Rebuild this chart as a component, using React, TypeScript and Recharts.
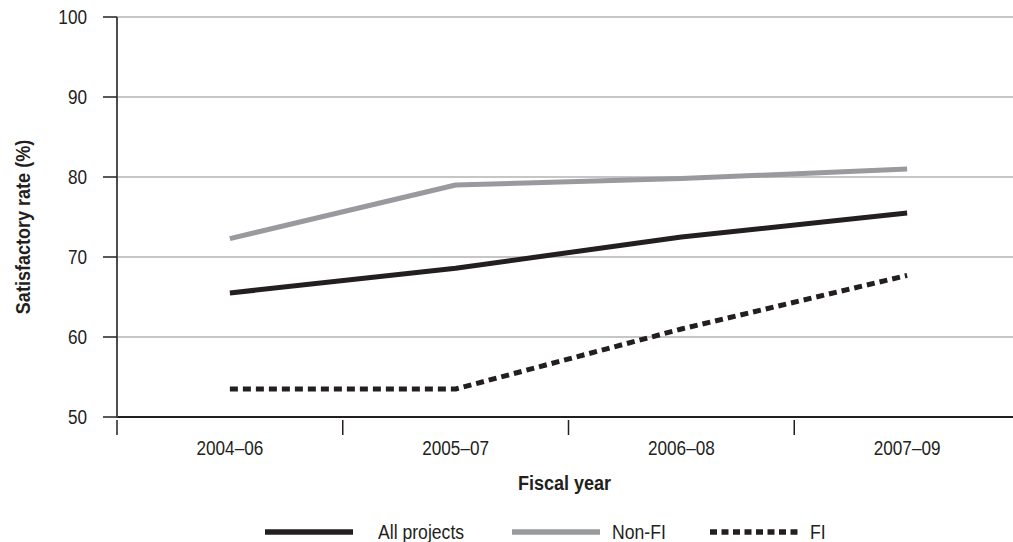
import { CartesianGrid, Legend, Line, LineChart, XAxis, YAxis } from "recharts";

const categories = ["2004–06", "2005–07", "2006–08", "2007–09"];
const allProjects = [65.5, 68.6, 72.5, 75.5];
const nonFi = [72.3, 79.0, 79.8, 81.0];
const fi = [53.5, 53.5, 61.0, 67.7];
const yTicks = [50, 60, 70, 80, 90, 100];

const series = [
  { key: "all", name: "All projects", color: "#231f20", dash: undefined as string | undefined },
  { key: "nonfi", name: "Non-FI", color: "#999a9d", dash: undefined as string | undefined },
  { key: "fi", name: "FI", color: "#231f20", dash: "7 4.5" },
];

const data = categories.map((cat, i) => ({
  cat,
  all: allProjects[i],
  nonfi: nonFi[i],
  fi: fi[i],
}));

// no condensed font installed: squeeze Liberation Sans horizontally instead
const FONT = '"Liberation Sans", Arial, sans-serif';
const SQUEEZE = 0.88;
const INK = "#231f20";

function NText({ x, y, anchor = "middle", size = 19.5, bold = false, rotate = false, children }: any) {
  return (
    <text
      transform={`translate(${x} ${y})${rotate ? " rotate(-90)" : ""} scale(${SQUEEZE} 1)`}
      dy="0.355em"
      textAnchor={anchor}
      fontFamily={FONT}
      fontSize={size}
      fontWeight={bold ? "bold" : "normal"}
      fill={INK}
    >
      {children}
    </text>
  );
}

function XTick(props: any) {
  const { x, y, payload } = props;
  const half = payload?.offset ?? 113;
  return (
    <g>
      <line x1={x - half} x2={x - half} y1={y + 3} y2={y + 18} stroke={INK} strokeWidth={1.5} />
      <NText x={x} y={y + 31}>{payload.value}</NText>
    </g>
  );
}

function YTick(props: any) {
  const { x, y, payload } = props;
  return <NText x={x} y={y} anchor="end">{payload.value}</NText>;
}

const legendSlots = [
  { swatch: 0, text: 113 },
  { swatch: 247, text: 347 },
  { swatch: 445, text: 545 },
];

function LegendRow() {
  return (
    <div style={{ position: "relative", width: 580, height: 24, fontFamily: FONT, fontSize: 20, color: INK }}>
      {series.map((s, i) => (
        <div key={s.key}>
          <svg width={88} height={10} style={{ position: "absolute", left: legendSlots[i].swatch, top: 7 }}>
            <line x1={0} x2={88} y1={5} y2={5} stroke={s.color} strokeWidth={5.5} strokeDasharray={s.dash} />
          </svg>
          <span
            style={{
              position: "absolute",
              left: legendSlots[i].text,
              top: 0,
              lineHeight: "24px",
              whiteSpace: "nowrap",
              transform: `scaleX(${SQUEEZE})`,
              transformOrigin: "left center",
            }}
          >
            {s.name}
          </span>
        </div>
      ))}
    </div>
  );
}

export default function App() {
  return (
    <div style={{ position: "absolute", left: 0, top: 0, width: 1013, height: 542, overflow: "hidden" }}>
      <LineChart width={1013} height={542} data={data} margin={{ top: 17, right: -7, bottom: 0, left: 0 }}>
        <CartesianGrid vertical={false} stroke="#b3b3b3" strokeWidth={1.5} />
        <XAxis
          dataKey="cat"
          scale="band"
          height={125}
          tickSize={0}
          tickMargin={0}
          tickLine={false}
          axisLine={{ stroke: INK, strokeWidth: 2 }}
          tick={<XTick />}
          interval={0}
          label={{
            content: (p: any) => (
              <NText x={p.viewBox.x + p.viewBox.width / 2 - 4} y={p.viewBox.y + 66} size={20.5} bold>
                Fiscal year
              </NText>
            ),
          }}
        />
        <YAxis
          domain={[50, 100]}
          ticks={yTicks}
          width={117}
          tickSize={14}
          tickMargin={16}
          tickLine={{ stroke: INK, strokeWidth: 1.5 }}
          axisLine={{ stroke: "#4d4d4d", strokeWidth: 2 }}
          tick={<YTick />}
          label={{
            content: () => (
              <NText x={23} y={227} size={20.5} bold rotate>
                Satisfactory rate (%)
              </NText>
            ),
          }}
        />
        <Legend
          layout="horizontal"
          verticalAlign="middle"
          align="center"
          wrapperStyle={{ top: 520, left: 265, width: "auto" }}
          content={() => <LegendRow />}
        />
        {series.map((s) => (
          <Line
            key={s.key}
            type="linear"
            dataKey={s.key}
            name={s.name}
            stroke={s.color}
            strokeWidth={5}
            strokeDasharray={s.key === "fi" ? "8 5" : undefined}
            strokeLinejoin="round"
            dot={false}
            activeDot={false}
            isAnimationActive={false}
          />
        ))}
      </LineChart>
    </div>
  );
}
